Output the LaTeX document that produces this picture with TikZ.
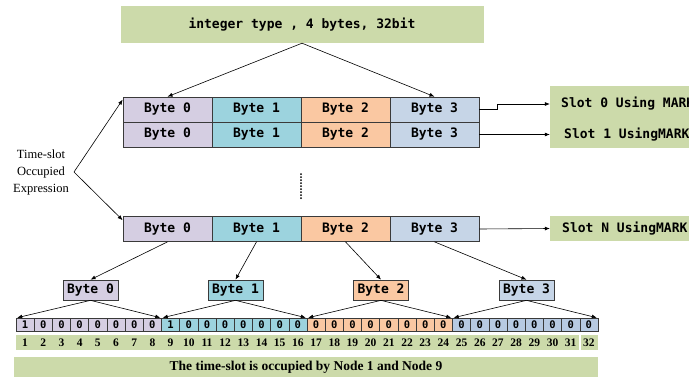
\documentclass[tikz,border=0pt]{standalone}
\usepackage{fontspec}
\setmainfont{Liberation Serif}
\newfontfamily\monof{DejaVu Sans Mono}
\usetikzlibrary{arrows.meta,calc}
\definecolor{bc0}{HTML}{D5CEE2}
\definecolor{bc1}{HTML}{9CD3DE}
\definecolor{bc2}{HTML}{FAC8A2}
\definecolor{bc3}{HTML}{C6D5E7}
\definecolor{bd3}{HTML}{B7CAE2}
\definecolor{gr}{HTML}{CCDAAA}
\definecolor{edge}{HTML}{3A3A3A}
\begin{document}
\begin{tikzpicture}[x=1pt,y=-1pt,
  arr/.style={-{Latex[length=5pt,width=4pt]}, line width=0.6pt},
  cellbox/.style={draw=edge, line width=0.7pt, minimum width=89pt, minimum height=25pt, inner sep=0pt, font=\monof\bfseries\fontsize{13}{15}\selectfont},
  smallbox/.style={draw=edge, line width=0.7pt, minimum width=55pt, minimum height=20pt, inner sep=0pt, font=\monof\bfseries\fontsize{13}{15}\selectfont},
  bitbox/.style={draw=edge, line width=0.6pt, minimum width=18.19pt, minimum height=13pt, inner sep=0pt, font=\monof\bfseries\fontsize{10.5}{12}\selectfont},
  numtxt/.style={inner sep=0pt, font=\bfseries\fontsize{11.5}{12}\selectfont},
  greenbox/.style={fill=gr, inner sep=0pt},
  monotxt/.style={inner sep=0pt, font=\monof\bfseries\fontsize{13}{15}\selectfont}]
\useasboundingbox (0,0) rectangle (689,378);

% top box
\node[greenbox, minimum width=363pt, minimum height=37pt, font=\monof\bfseries\fontsize{13}{15}\selectfont] (top) at (302,24.5) {integer type , 4 bytes, 32bit};

% rows of bytes
\foreach \r/\y in {1/109.5, 2/134.5, N/229} {
  \foreach \c in {0,1,2,3} {
    \node[cellbox, fill=bc\c] (r\r-\c) at ({167.5+89*\c},\y) {Byte \c};
  }
}

\draw[arr] (top.south) -- (r1-0.north);
\draw[arr] (top.south) -- (r1-3.north);

% slot boxes
\node[greenbox, minimum width=150pt, minimum height=62pt] (g01) at (625,117) {};
\node[greenbox, minimum width=150pt, minimum height=25pt] (gN) at (625,228.5) {};
\node[monotxt, anchor=west] (slot0) at (561,104) {Slot 0 Using MARK};
\node[monotxt, anchor=west] (slot1) at (564,134.5) {Slot 1 UsingMARK};
\node[monotxt, anchor=west] (slotN) at (562,229) {Slot N UsingMARK};

\draw[arr] (r1-3.east) -- ++(18,0) |- (g01.west |- slot0.west);
\draw[arr] (r2-3.east) -- (g01.west |- r2-3.east);
\draw[arr] (rN-3.east) -- (gN.west);

% time-slot expression
\node[align=center, inner sep=0pt, font=\fontsize{12.5}{17}\selectfont] (ts) at (41,172) {Time-slot\\Occupied\\Expression};
\coordinate (v) at (74,172);
\draw[arr] (v) -- ([yshift=-3pt]r1-0.north west);
\draw[arr] (v) -- ([yshift=-4pt]rN-0.north west);

% dots
\coordinate (d1) at (301,174);
\coordinate (d2) at (301,198);
\draw[line width=2pt, line cap=round, dash pattern=on 0pt off 3pt] (d1) -- (d2);

% small byte boxes
\foreach \i/\x in {0/90.5, 1/235.5, 2/381, 3/526.5} {
  \node[smallbox, fill=bc\i] (b\i) at (\x,290) {Byte \i};
  \draw[arr] (rN-\i.south) -- (b\i.north);
}

% number band
\node[greenbox, minimum width=582pt, minimum height=15pt] (numband) at (307,342.5) {};

% bits and numbers
\foreach \k in {1,...,32} {
  \pgfmathtruncatemacro\byte{int((\k-1)/8)}
  \pgfmathtruncatemacro\bitv{or(\k==1,\k==9)}
  \pgfmathsetmacro\bx{16+18.1875*(\k-0.5)}
  \ifnum\byte=3
    \node[bitbox, fill=bd3] (bit\k) at (\bx,324.5) {\bitv};
  \else
    \node[bitbox, fill=bc\byte] (bit\k) at (\bx,324.5) {\bitv};
  \fi
  \node[numtxt] (n\k) at (\bx,342.5) {\k};
}
\draw[white, line width=1.5pt] (bit31.south east |- numband.north) -- (bit31.south east |- numband.south);

% arrows from small boxes to bits
\foreach \i in {0,...,3} {
  \pgfmathtruncatemacro\first{8*\i+1}
  \pgfmathtruncatemacro\last{8*\i+8}
  \draw[arr] (b\i.south) -- ([xshift=1.5pt]bit\first.north west);
  \draw[arr] (b\i.south) -- ([xshift=-1.5pt]bit\last.north east);
}

% banner
\node[greenbox, minimum width=584pt, minimum height=20pt, font=\bfseries\fontsize{13.5}{15}\selectfont] (banner) at (306,367) {The time-slot is occupied by Node 1 and Node 9};
\end{tikzpicture}
\end{document}
